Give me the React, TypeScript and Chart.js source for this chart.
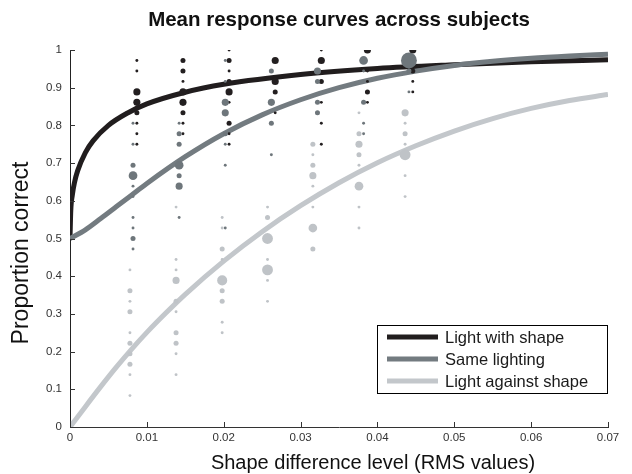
import React, { useEffect, useRef } from 'react';
import { Chart, registerables } from 'chart.js';

Chart.register(...registerables);

// ---------- text ----------
const chartTitle = 'Mean response curves across subjects';
const xAxisTitle = 'Shape difference level (RMS values)';
const yAxisTitle = 'Proportion correct';
const seriesNames = ['Light with shape', 'Same lighting', 'Light against shape'];

// ---------- ticks ----------
const xTickValues = [0, 0.01, 0.02, 0.03, 0.04, 0.05, 0.06, 0.07];
const xTickLabels = ['0', '0.01', '0.02', '0.03', '0.04', '0.05', '0.06', '0.07'];
const yTickValues = [0, 0.1, 0.2, 0.3, 0.4, 0.5, 0.6, 0.7, 0.8, 0.9, 1];
const yTickLabels = ['0', '0.1', '0.2', '0.3', '0.4', '0.5', '0.6', '0.7', '0.8', '0.9', '1'];

// ---------- per-subject observations ----------
const trialsPerLevel = 36;
const withShapeLevels = [0.0087, 0.0147, 0.0207, 0.0267, 0.0327, 0.0387, 0.0446];
const sameLightLevels = [0.0082, 0.0142, 0.0202, 0.0262, 0.0322, 0.0382, 0.0441];
const againstLevels = [0.0078, 0.0138, 0.0198, 0.0257, 0.0316, 0.0376, 0.0436];

// [level index, correct trials (of 36), number of observations]
const withShapeObs: number[][] = [
  [0, 35, 1], [0, 34, 1], [0, 32, 6], [0, 31, 6], [0, 30, 3], [0, 29, 1], [0, 28, 1], [0, 27, 1],
  [1, 35, 3], [1, 34, 3], [1, 33, 1], [1, 32, 6], [1, 31, 6], [1, 30, 3], [1, 29, 1], [1, 28, 1],
  [2, 36, 1], [2, 35, 3], [2, 34, 1], [2, 33, 3], [2, 32, 6], [2, 31, 1], [2, 29, 3], [2, 28, 1], [2, 27, 1],
  [3, 35, 6], [3, 33, 6], [3, 32, 3], [3, 30, 1],
  [4, 36, 1], [4, 35, 6], [4, 33, 3], [4, 31, 1], [4, 29, 1], [4, 27, 1],
  [5, 36, 6], [5, 34, 1], [5, 33, 1], [5, 32, 3], [5, 31, 1],
  [6, 36, 6], [6, 34, 3], [6, 33, 1], [6, 32, 1],
];
const sameLightObs: number[][] = [
  [0, 29, 1], [0, 27, 1], [0, 25, 3], [0, 24, 9], [0, 23, 1], [0, 22, 1], [0, 20, 1], [0, 19, 1], [0, 18, 3], [0, 17, 1],
  [1, 29, 1], [1, 28, 3], [1, 27, 3], [1, 25, 9], [1, 24, 3], [1, 23, 6], [1, 20, 1],
  [2, 35, 1], [2, 33, 1], [2, 31, 6], [2, 30, 6], [2, 28, 3], [2, 27, 1], [2, 25, 1], [2, 19, 1],
  [3, 34, 3], [3, 31, 6], [3, 29, 3], [3, 26, 1],
  [4, 34, 6], [4, 33, 3], [4, 31, 3], [4, 30, 3],
  [5, 35, 9], [5, 34, 1], [5, 31, 3], [5, 29, 1], [5, 28, 1],
  [6, 35, 30], [6, 34, 3], [6, 32, 1],
];
const againstObs: number[][] = [
  [0, 15, 1], [0, 13, 3], [0, 12, 1], [0, 11, 3], [0, 9, 1], [0, 8, 3], [0, 7, 3], [0, 6, 3], [0, 5, 1], [0, 3, 1],
  [1, 21, 1], [1, 16, 1], [1, 15, 1], [1, 14, 6], [1, 12, 3], [1, 11, 1], [1, 9, 3], [1, 8, 3], [1, 7, 1], [1, 5, 1],
  [2, 20, 1], [2, 19, 1], [2, 17, 3], [2, 16, 1], [2, 14, 12], [2, 13, 3], [2, 12, 3], [2, 10, 1], [2, 9, 1],
  [3, 21, 1], [3, 20, 3], [3, 18, 14], [3, 16, 1], [3, 15, 14], [3, 14, 1], [3, 12, 1],
  [4, 27, 3], [4, 26, 1], [4, 25, 3], [4, 24, 6], [4, 23, 1], [4, 21, 1], [4, 19, 9], [4, 17, 3],
  [5, 30, 1], [5, 28, 3], [5, 27, 6], [5, 26, 3], [5, 25, 1], [5, 23, 9], [5, 21, 1], [5, 19, 1],
  [6, 30, 6], [6, 29, 1], [6, 28, 3], [6, 27, 1], [6, 26, 14], [6, 24, 1], [6, 22, 1],
];

// ---------- fitted mean curves ----------
const withShapeCurveX = [0, 0.0001, 0.0003, 0.0006, 0.001, 0.002, 0.003, 0.005, 0.0075, 0.01, 0.015, 0.02, 0.03, 0.04, 0.05, 0.06, 0.07];
const withShapeCurveY = [0.5, 0.574, 0.615, 0.65, 0.68, 0.728, 0.759, 0.8, 0.833, 0.857, 0.888, 0.909, 0.935, 0.951, 0.961, 0.969, 0.974];
const sameLightCurveX = [0, 0.002, 0.004, 0.006, 0.008, 0.01, 0.015, 0.02, 0.025, 0.03, 0.035, 0.04, 0.045, 0.05, 0.055, 0.06, 0.065, 0.07];
const sameLightCurveY = [0.5, 0.523, 0.553, 0.584, 0.615, 0.646, 0.717, 0.778, 0.828, 0.868, 0.9, 0.925, 0.944, 0.959, 0.97, 0.978, 0.984, 0.989];
const againstCurveX = [0, 0.002, 0.004, 0.006, 0.008, 0.01, 0.0125, 0.015, 0.02, 0.025, 0.03, 0.035, 0.04, 0.045, 0.05, 0.055, 0.06, 0.065, 0.07];
const againstCurveY = [0, 0.054, 0.107, 0.158, 0.206, 0.251, 0.303, 0.352, 0.44, 0.518, 0.587, 0.648, 0.701, 0.746, 0.785, 0.818, 0.845, 0.866, 0.882];

// ---------- styles ----------
const FONT = '"Liberation Sans", Arial, Helvetica, sans-serif';
const lineColors = ['#211d1e', '#737b80', '#c3c7cb'];
const dotColors = ['#231f20', '#6e767b', '#bfc3c7'];

const toPoints = (xs: number[], ys: number[]) => xs.map((x, i) => ({ x, y: ys[i] }));
const obsPoints = (levels: number[], obs: number[][]) =>
  obs.map(([li, k]) => ({ x: levels[li], y: k / trialsPerLevel }));
const obsRadii = (obs: number[][]) => obs.map((o) => 1.45 * Math.sqrt(o[2]));

const inwardTicks = {
  id: 'inwardTicks',
  afterDatasetsDraw(chart: any) {
    const { ctx, chartArea, scales } = chart;
    ctx.save();
    ctx.strokeStyle = '#333';
    ctx.lineWidth = 1;
    const len = 5;
    scales.x.ticks.forEach((t: any) => {
      const px = Math.round(scales.x.getPixelForValue(t.value)) + 0.5;
      ctx.beginPath();
      ctx.moveTo(px, chartArea.bottom);
      ctx.lineTo(px, chartArea.bottom - len);
      ctx.stroke();
    });
    scales.y.ticks.forEach((t: any) => {
      const py = Math.round(scales.y.getPixelForValue(t.value)) + 0.5;
      ctx.beginPath();
      ctx.moveTo(chartArea.left, py);
      ctx.lineTo(chartArea.left + len, py);
      ctx.stroke();
    });
    ctx.restore();
  },
};

const axisTitles = {
  id: 'axisTitles',
  afterDraw(chart: any) {
    const { ctx, chartArea } = chart;
    ctx.save();
    ctx.fillStyle = '#111';
    ctx.textBaseline = 'middle';
    ctx.textAlign = 'center';
    ctx.font = `20px ${FONT}`;
    ctx.fillText(xAxisTitle, chartArea.left + 303, chartArea.bottom + 36);
    ctx.translate(22, chartArea.top + 203);
    ctx.rotate(-Math.PI / 2);
    ctx.font = `23px ${FONT}`;
    ctx.fillText(yAxisTitle, 0, 0);
    ctx.restore();
  },
};

const boxLegend = {
  id: 'boxLegend',
  afterDraw(chart: any) {
    const { ctx, chartArea } = chart;
    const w = 230;
    const h = 68;
    const right = chartArea.right - 1;
    const bottom = chartArea.bottom - 34;
    const left = right - w;
    const top = bottom - h;
    ctx.save();
    ctx.fillStyle = '#fff';
    ctx.fillRect(left, top, w, h);
    ctx.strokeStyle = '#000';
    ctx.lineWidth = 1;
    ctx.strokeRect(Math.round(left) + 0.5, Math.round(top) + 0.5, w, h);
    ctx.font = `16.5px ${FONT}`;
    ctx.textBaseline = 'middle';
    ctx.textAlign = 'left';
    seriesNames.forEach((name, i) => {
      const y = top + 12 + i * 22;
      ctx.strokeStyle = lineColors[i];
      ctx.lineWidth = 5;
      ctx.beginPath();
      ctx.moveTo(left + 10, y);
      ctx.lineTo(left + 61, y);
      ctx.stroke();
      ctx.fillStyle = '#1a1a1a';
      ctx.fillText(name, left + 68, y + 1);
    });
    ctx.restore();
  },
};

export default function App() {
  const canvasRef = useRef<HTMLCanvasElement>(null);

  useEffect(() => {
    if (!canvasRef.current) return;
    const obsSets = [
      { levels: withShapeLevels, obs: withShapeObs },
      { levels: sameLightLevels, obs: sameLightObs },
      { levels: againstLevels, obs: againstObs },
    ];
    const curveSets = [
      { xs: withShapeCurveX, ys: withShapeCurveY },
      { xs: sameLightCurveX, ys: sameLightCurveY },
      { xs: againstCurveX, ys: againstCurveY },
    ];
    const scatterDatasets = obsSets
      .map((s, i) => ({
        label: seriesNames[i] + ' (subjects)',
        data: obsPoints(s.levels, s.obs),
        showLine: false,
        pointRadius: obsRadii(s.obs),
        pointHoverRadius: obsRadii(s.obs),
        pointBackgroundColor: dotColors[i],
        pointBorderWidth: 0,
        pointBorderColor: 'rgba(0,0,0,0)',
      }))
      .reverse();
    const lineDatasets = curveSets
      .map((c, i) => ({
        label: seriesNames[i],
        data: toPoints(c.xs, c.ys),
        showLine: true,
        borderColor: lineColors[i],
        borderWidth: 5,
        borderCapStyle: 'butt',
        pointRadius: 0,
        cubicInterpolationMode: 'monotone',
      }))
      .reverse();

    const chart = new Chart(canvasRef.current, {
      type: 'scatter',
      data: { datasets: [...scatterDatasets, ...lineDatasets] as any },
      plugins: [inwardTicks, axisTitles, boxLegend],
      options: {
        responsive: false,
        animation: false,
        events: [],
        layout: { padding: { left: 0, right: 24, top: 0, bottom: 0 } },
        plugins: {
          legend: { display: false },
          tooltip: { enabled: false },
          title: {
            display: true,
            fullSize: false,
            text: chartTitle,
            color: '#111',
            font: { family: FONT, size: 20.5, weight: 'bold' },
            padding: { top: 8, bottom: 17.4 },
          },
        },
        scales: {
          x: {
            type: 'linear',
            min: 0,
            max: 0.07,
            afterFit: (s: any) => { s.height = 47; },
            afterBuildTicks: (s: any) => { s.ticks = xTickValues.map((v) => ({ value: v })); },
            ticks: {
              autoSkip: false,
              maxRotation: 0,
              padding: 4,
              color: '#333',
              font: { family: FONT, size: 11.5 },
              callback: (_v: any, i: number) => xTickLabels[i],
            },
            grid: { display: true, drawOnChartArea: false, drawTicks: false },
            border: { display: true, color: '#333', width: 1 },
            title: { display: false },
          },
          y: {
            type: 'linear',
            min: 0,
            max: 1,
            afterFit: (s: any) => { s.width = 70; },
            afterBuildTicks: (s: any) => { s.ticks = yTickValues.map((v) => ({ value: v })); },
            ticks: {
              autoSkip: false,
              padding: 8,
              color: '#333',
              font: { family: FONT, size: 11.5 },
              callback: (_v: any, i: number) => yTickLabels[i],
            },
            grid: { display: true, drawOnChartArea: false, drawTicks: false },
            border: { display: true, color: '#222', width: 1 },
            title: { display: false },
          },
        },
      } as any,
    });
    return () => chart.destroy();
  }, []);

  return (
    <div style={{ position: 'absolute', left: 0, top: 0, width: 632, height: 474, background: '#fff' }}>
      <canvas ref={canvasRef} width={632} height={474} style={{ display: 'block' }} />
    </div>
  );
}
